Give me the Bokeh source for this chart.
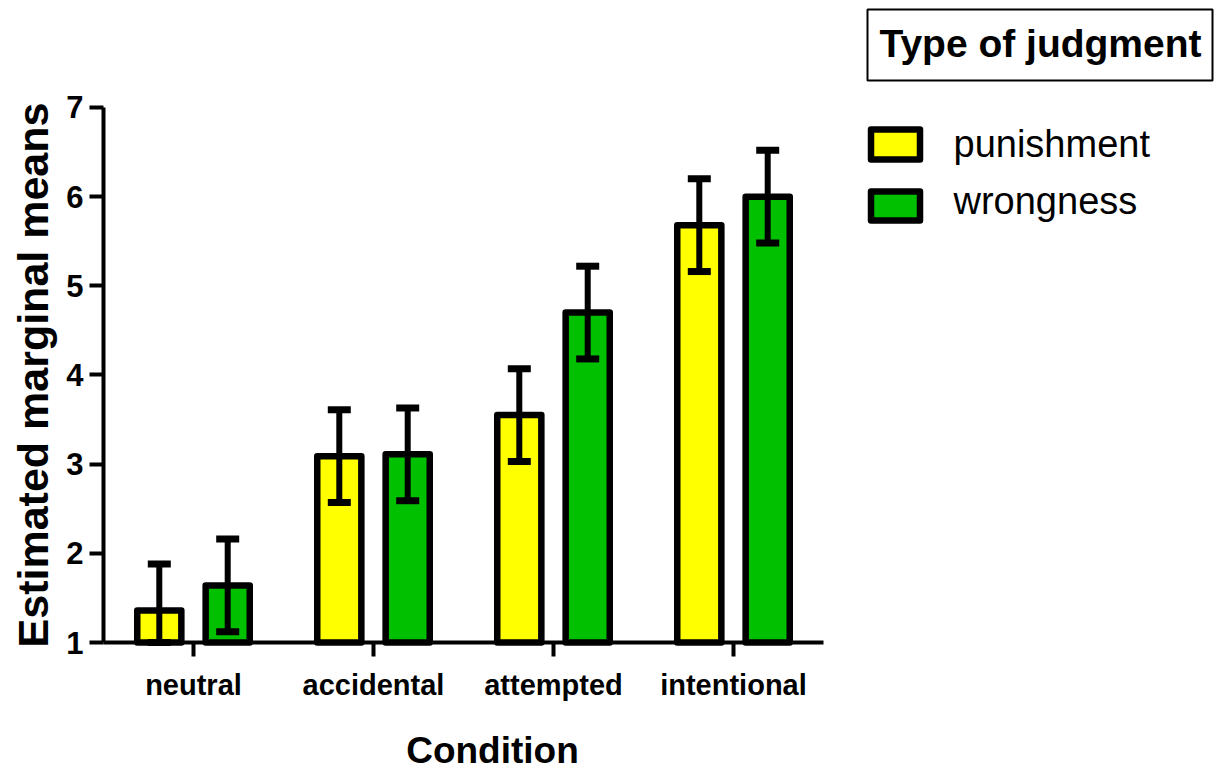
import numpy as np
from bokeh.plotting import figure
from bokeh.models import ColumnDataSource, Range1d, FixedTicker, Whisker, TeeHead
from bokeh.core.properties import value
from bokeh.embed import file_html
from bokeh.resources import INLINE

# ---- data -------------------------------------------------------------
conditions = ["neutral", "accidental", "attempted", "intentional"]
series_names = ["punishment", "wrongness"]
punishment = [1.36, 3.09, 3.55, 5.68]
wrongness = [1.64, 3.11, 4.70, 6.00]
punishment_err = [0.52, 0.52, 0.52, 0.52]
wrongness_err = [0.52, 0.52, 0.52, 0.52]
y_ticks = [1, 2, 3, 4, 5, 6, 7]

# ---- page geometry (pixels) -------------------------------------------
W, H = 1214, 774
X0_PX = 103        # left end of the category axis
CAT_PX = 180       # width of one category
Y1_PX = 642        # position of y = 1
UNIT_PX = 89.17    # pixels per y unit

FONT = "Liberation Sans"
COLORS = ["#FFFF00", "#00C000"]
Y_MIN, Y_MAX = 1, 7
OFFSET = 0.19
BAR_W = 0.245
MID = 0.35         # baseline-to-middle distance, in em


def px_x(px):
    return (px - X0_PX) / CAT_PX


def px_y(py):
    return Y_MIN + (Y1_PX - py) / UNIT_PX


def text_y(baseline_px, size_px):
    """Data y for a middle-anchored text whose baseline sits at baseline_px."""
    return px_y(baseline_px - MID * size_px)


n = len(conditions)
centers = np.arange(n) + 0.5
p_arr = np.array(punishment)
w_arr = np.array(wrongness)
pe = np.array(punishment_err)
we = np.array(wrongness_err)

src = ColumnDataSource(dict(
    xp=centers - OFFSET,
    xw=centers + OFFSET,
    punishment=punishment,
    wrongness=wrongness,
    p_up=p_arr + pe,
    p_lo=np.maximum(p_arr - pe, Y_MIN),
    w_up=w_arr + we,
    w_lo=np.maximum(w_arr - we, Y_MIN),
))

p = figure(width=W, height=H,
           x_range=Range1d(px_x(0), px_x(W)), y_range=Range1d(px_y(H), px_y(0)),
           min_border=0, min_border_left=0, min_border_right=0,
           min_border_top=0, min_border_bottom=0,
           toolbar_location=None, output_backend="svg")
p.outline_line_color = None
p.grid.visible = False

for xcol, name, color in zip(["xp", "xw"], series_names, COLORS):
    p.vbar(x=xcol, top=name, bottom=Y_MIN, width=BAR_W, source=src,
           fill_color=color, line_color="black", line_width=6.5, line_join="round")

for xcol, lo, up in [("xp", "p_lo", "p_up"), ("xw", "w_lo", "w_up")]:
    p.add_layout(Whisker(base=xcol, lower=lo, upper=up, source=src,
                         line_width=6, line_color="black", level="overlay",
                         upper_head=TeeHead(size=23, line_width=7, line_color="black"),
                         lower_head=TeeHead(size=23, line_width=7, line_color="black")))

# axes, pinned to the corner of the data area
xa, ya = p.xaxis[0], p.yaxis[0]
xa.fixed_location = Y_MIN
ya.fixed_location = 0
xa.bounds = (0, n)
ya.bounds = (Y_MIN, Y_MAX)
xa.ticker = FixedTicker(ticks=list(centers))
xa.major_label_overrides = {float(c): lab for c, lab in zip(centers, conditions)}
ya.ticker = FixedTicker(ticks=y_ticks)

for ax in (xa, ya):
    ax.axis_line_width = 4
    ax.axis_line_color = "black"
    ax.major_tick_line_width = 4
    ax.major_tick_line_color = "black"
    ax.major_tick_in = 0
    ax.major_tick_out = 14
    ax.minor_tick_line_color = None
    ax.major_label_text_font = FONT
    ax.major_label_text_font_style = "bold"
    ax.major_label_text_color = "black"
    ax.axis_label_text_font = FONT
    ax.axis_label_text_font_style = "bold"
    ax.axis_label_text_color = "black"

ya.major_label_text_font_size = "31px"
ya.major_label_standoff = 6
ya.axis_label = "Estimated marginal means"
ya.axis_label_text_font_size = "43px"
ya.axis_label_standoff = 6

xa.major_label_text_font_size = "29px"
xa.major_label_standoff = 12

# x-axis title
p.text(x=[px_x(492)], y=[text_y(763, 37)], text=["Condition"], text_align="center",
       text_baseline="middle", text_font=value(FONT), text_font_style="bold",
       text_font_size="37px", text_color="black")

# ---- legend -----------------------------------------------------------
p.quad(left=[px_x(867)], right=[px_x(1212)], top=[px_y(9)], bottom=[px_y(80)],
       fill_color=None, line_color="black", line_width=2)
p.text(x=[px_x(1040)], y=[text_y(57, 39)], text=["Type of judgment"], text_align="center",
       text_baseline="middle", text_font=value(FONT), text_font_style="bold",
       text_font_size="39px", text_color="black")

sw_top = [px_y(129), px_y(191)]
sw_bot = [px_y(159), px_y(220)]
p.quad(left=[px_x(870.5)] * 2, right=[px_x(919.5)] * 2, top=sw_top, bottom=sw_bot,
       fill_color=COLORS, line_color="black", line_width=6.5, line_join="round")
p.text(x=[px_x(953)] * 2, y=[text_y(157, 38), text_y(214, 38)], text=series_names,
       text_align="left", text_baseline="middle", text_font=value(FONT),
       text_font_size="38px", text_color="black")

open("out.html", "w").write(file_html(p, INLINE))
